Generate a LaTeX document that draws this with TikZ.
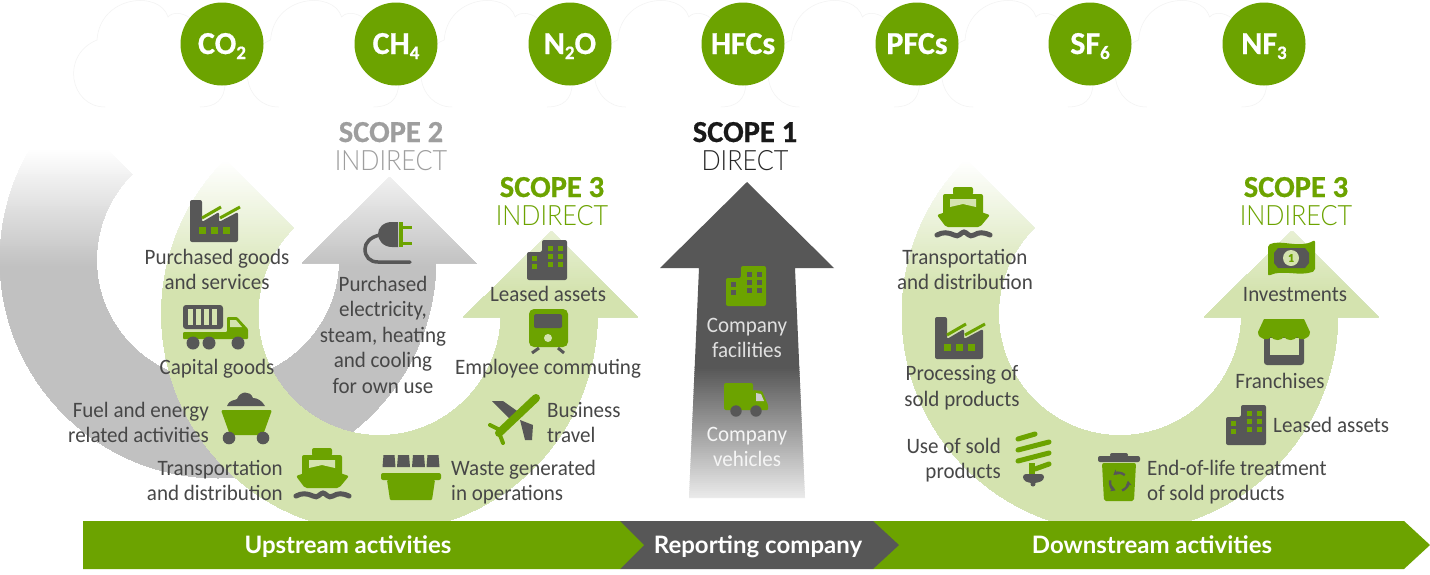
\documentclass[tikz,border=0pt]{standalone}
\usepackage{fontspec}
\setmainfont{Carlito}[FakeStretch=0.955]
\newfontfamily\lightfont{Lato Light}[FakeStretch=0.9]
\newfontfamily\headfont{Lato}
\newfontfamily\heavyfont{Carlito Bold}[FakeBold=0.6]
\newcommand{\gassub}[1]{\raisebox{-5pt}{\fontsize{19}{19}\selectfont #1}}
\usetikzlibrary{arrows.meta}
\definecolor{scopegreen}{HTML}{6CA300}
\definecolor{scopepale}{HTML}{D4E3AF}
\definecolor{scopegray}{HTML}{C1C1C1}
\definecolor{scopedark}{HTML}{575757}
\definecolor{scopetext}{HTML}{474747}
\colorlet{scopefade}{black!8}
\tikzset{
    lbl/.style={font=\fontsize{22}{25.4}\selectfont, text=scopetext, align=center, inner sep=0pt,
        execute at begin node=\strut, execute at end node=\strut},
    gas/.style={circle, fill=scopegreen, minimum size=83pt, inner sep=0pt, text=white, text height=20pt, text depth=0pt,
        font=\fontsize{32}{32}\selectfont\heavyfont},
    scopebold/.style={anchor=base, inner sep=0pt, font=\fontsize{30.5}{31}\selectfont\heavyfont},
    scopelight/.style={anchor=base, inner sep=0pt, font=\fontsize{28}{28}\selectfont\lightfont},
    barlbl/.style={anchor=base, inner sep=0pt, text=white, font=\fontsize{24}{24}\selectfont\headfont\bfseries},
    dk/.style={fill=scopedark},
    gr/.style={fill=scopegreen},
    pics/uarrow/.style n args={3}{code={
        \begin{scope}
            \clip (-154.15,-154.15) arc[start angle=135, end angle=360, radius=218pt]
                -- (218,3) -- (258,3) -- (172,-83) -- (84,3) -- (121.5,3) -- (121.5,0)
                arc[start angle=360, end angle=135, radius=121.5pt] -- cycle;
            \pgfmathsetmacro\gstep{#2+2}
            \foreach \gy in {#2,\gstep,...,#3} {
                \pgfmathsetmacro\gp{100*(\gy-(#2))/((#3)-(#2))}
                \fill[#1!\gp!white] (-240,\gy) rectangle (280,240);
            }
        \end{scope}
    }},
    pics/factory/.style={code={
        \fill[dk, rounded corners=2pt] (-24,-21) -- (-12,-21) -- (-12,1) -- (5,-9) -- (5,1) -- (24,-9) -- (24,21) -- (-24,21) -- cycle;
        \draw[scopegreen, line width=3pt] (-12,-3) -- (7,-14) (6,-3) -- (26,-14);
        \foreach \wx in {-12,0,12} \fill[gr] (\wx-3.5,6) rectangle (\wx+3.5,13);
    }},
    pics/building/.style n args={2}{code={
        \fill[#1, rounded corners=2pt] (-20,-8) -- (-5,-8) -- (-5,-20) -- (20,-20) -- (20,20) -- (-20,20) -- cycle;
        \foreach \wx in {3,13} \foreach \wy in {-12,-4,4} \fill[#2] (\wx-2.5,\wy-2.5) rectangle (\wx+2.5,\wy+2.5);
        \foreach \wy in {-2,6} \fill[#2] (-15.5,\wy-2.5) rectangle (-10.5,\wy+2.5);
    }},
    pics/ship/.style={code={
        \fill[gr, rounded corners=2pt] (-10,-25) rectangle (10,-17);
        \fill[gr, rounded corners=2pt] (-20,-18) rectangle (20,3);
        \fill[scopepale] (-13,-13) -- (13,-13) -- (13,-5) -- (0,-8) -- (-13,-5) -- cycle;
        \fill[gr, rounded corners=2pt] (-26,3) -- (0,-6) -- (27,3) -- (17,15) -- (-17,15) -- cycle;
        \draw[scopedark, line width=5pt, line cap=round] (-26,23) .. controls (-20,20) and (-16,20) .. (-9,23)
            .. controls (-4,26) and (-2,20) .. (1,20) .. controls (4,20) and (6,26) .. (11,23)
            .. controls (16,20) and (20,20) .. (27,23);
    }},
    pics/bigtruck/.style={code={
        \fill[dk, rounded corners=3pt] (-32,-22) rectangle (8,2);
        \foreach \wx in {-25,-17,-9,-1} \fill[scopepale] (\wx-2.5,-18) rectangle (\wx+2.5,-2);
        \fill[gr, rounded corners=1pt] (-32,5) -- (12,5) -- (12,-10) -- (22,-10) -- (33,2) -- (33,12) -- (-32,12) -- cycle;
        \fill[scopepale] (15,-7) -- (21,-7) -- (27,0) -- (15,0) -- cycle;
        \foreach \wx in {-22,-6,23} \fill[dk] (\wx,16) circle (6.5);
    }},
    pics/cart/.style={code={
        \fill[dk] (-19,-9) .. controls (-16,-16) and (-12,-14) .. (-9,-16) .. controls (-6,-24) and (4,-25) .. (7,-17)
            .. controls (12,-17) and (16,-14) .. (19,-9) -- cycle;
        \fill[gr, rounded corners=2pt] (-25,-5) -- (26,-5) -- (17,20) -- (-16,20) -- cycle;
        \foreach \wx in {-17,17} \fill[dk] (\wx,23) circle (6.3);
    }},
    pics/dumpster/.style={code={
        \foreach \lx in {-22,-7.5,7.5,22} \fill[dk] (\lx-5.5,-23) -- (\lx+5.5,-23) -- (\lx+6.5,-11) -- (\lx-6.5,-11) -- cycle;
        \fill[gr, rounded corners=2pt] (-30,-5) rectangle (30,2);
        \fill[gr, rounded corners=1pt] (-24,2) -- (24,2) -- (21,22) -- (-21,22) -- cycle;
    }},
    pics/train/.style={code={
        \fill[gr, rounded corners=5pt] (-19,-21) rectangle (20,17);
        \fill[dk, rounded corners=1.5pt] (-14,-16) rectangle (14,-2);
        \fill[scopepale] (0,8) circle (4);
        \draw[scopedark, line width=3pt] (-9,18) -- (-16,23) (10,18) -- (16,23);
    }},
    pics/plane/.style={code={
        \fill[dk] (-23,-17) -- (-12,-17) -- (5,-5) -- (-3,3) -- cycle;
        \fill[dk] (5,2) -- (18,7) -- (17,22) -- (10,22) -- cycle;
        \draw[scopegreen, line width=4pt, line cap=round] (-25,7) -- (-13,13) (-12,25) -- (-17,12);
        \draw[scopegreen, line width=8pt, line cap=round] (-16,15) -- (21,-20);
    }},
    pics/plug/.style={code={
        \draw[scopedark, line width=3.5pt, line cap=round] (-8,-7) .. controls (-18,-5) and (-23,1) .. (-23,7)
            .. controls (-23,15) and (-18,20) .. (-10,20) -- (22,20);
        \fill[dk] (10,-20) -- (10,5) -- (4,5) .. controls (-5,5) and (-10,-2) .. (-10,-8) .. controls (-10,-14) and (-5,-20) .. (4,-20) -- cycle;
        \fill[gr] (11,-20) rectangle (15,5);
        \draw[scopegreen, line width=3pt] (15,-15) -- (24,-15) (15,1) -- (24,1);
    }},
    pics/smalltruck/.style={code={
        \fill[gr, rounded corners=2pt] (-21,-15) rectangle (8,12);
        \fill[gr, rounded corners=1pt] (8,-8) -- (17,-7) -- (23,7) -- (23,12) -- (8,12) -- cycle;
        \fill[scopedark!30] (11,-5) -- (16,-4) -- (19,3) -- (11,3) -- cycle;
        \foreach \wx in {-9,11} \fill[dk] (\wx,13) circle (5.7);
    }},
    pics/bulb/.style={code={
        \draw[scopegreen, line width=5pt, line cap=round] (-15,-18) -- (2,-23) (-15,-7) -- (16,-15) (-15,4) -- (16,-4) (2,12) -- (16,7);
        \fill[gr] (-4,6) rectangle (2,18);
        \fill[dk, rounded corners=3pt] (-10,17) -- (11,17) -- (11,23) -- (4,26) -- (-4,26) -- (-10,23) -- cycle;
        \fill[dk] (0,27) circle (2.5);
    }},
    pics/bin/.style={code={
        \fill[dk, rounded corners=2pt] (-21,-21) rectangle (21,-15);
        \fill[dk, rounded corners=2pt] (-9,-24) rectangle (9,-20);
        \fill[gr, rounded corners=2pt] (-17,-14) -- (17,-14) -- (15,24) -- (-15,24) -- cycle;
        \foreach \ra in {90,210,330}
            \draw[scopedark, line width=2.4pt, -{Stealth[length=5pt,width=6pt]}, shift={(0,5)}] (\ra-40:9pt) arc[start angle=\ra-40, end angle=\ra+38, radius=9pt];
    }},
    pics/shop/.style={code={
        \fill[dk, rounded corners=3pt] (-20,-5) rectangle (20,23);
        \fill[scopepale] (-14,-4) rectangle (15,13);
        \fill[gr] (-20,-23) -- (20,-23) -- (26,-10) .. controls (26,-2) and (15,-1) .. (13,-5)
            .. controls (10,-1) and (3,-1) .. (0,-5) .. controls (-3,-1) and (-10,-1) .. (-13,-5)
            .. controls (-15,-1) and (-26,-2) .. (-26,-10) -- cycle;
    }},
    pics/money/.style={code={
        \fill[gr, rounded corners=2pt] (-23,-13) .. controls (-10,-19) and (8,-9) .. (24,-18) -- (24,13)
            .. controls (8,19) and (-8,11) .. (-23,18) -- cycle;
        \fill[dk] (-13,-10) -- (14,-10) -- (18,-5) -- (18,5) -- (14,10) -- (-13,10) -- (-17,5) -- (-17,-5) -- cycle;
        \fill[scopepale] (0,0) circle (8);
    }},
}
\begin{document}
\begin{tikzpicture}[x=1pt, y=-1pt]
    \useasboundingbox (0,0) rectangle (1430,574);
    \fill[white] (0,0) rectangle (1430,574);

    % Clouds
    \foreach \cloudx in {0,173.6,347.2,520.8,694.4,868,1041.6}
        \draw[black!5, line width=0.5pt, shift={(\cloudx,0)}] (105,107) .. controls (70,107) and (60,55) .. (97,40)
            .. controls (100,-5) and (160,-10) .. (168,17) .. controls (172,12) and (182,12) .. (190,18)
            (225,83) .. controls (225,100) and (215,107) .. (200,107);

    % Gases
    \node[gas] at (222,44) (co2) {CO\gassub{2}};
    \node[gas] at (396,44) (ch4) {CH\gassub{4}};
    \node[gas] at (570,44) (n2o) {N\gassub{2}O};
    \node[gas] at (743,44) (hfcs) {HFCs};
    \node[gas] at (917,44) (pfcs) {PFCs};
    \node[gas] at (1090,44) (sf6) {SF\gassub{6}};
    \node[gas] at (1264,44) (nf3) {NF\gassub{3}};

    % Arrows
    \pic at (218,260) {uarrow={scopegray}{-112}{6}};
    \pic at (379.5,314) {uarrow={scopepale}{-154}{-24}};
    \pic at (1120,314) {uarrow={scopepale}{-154}{-24}};
    \begin{scope}
        \clip (747,182) -- (834,268) -- (795,268) -- (805,498) -- (689,498) -- (699,268) -- (660,268) -- cycle;
        \fill[scopedark] (650,170) rectangle (840,368);
        \foreach \gy in {367,369,...,497} {
            \pgfmathsetmacro\gp{100*(497-\gy)/130}
            \fill[scopedark!\gp!scopefade] (650,\gy) rectangle (840,\gy+3);
        }
    \end{scope}

    % Bar
    \fill[scopegreen] (873,521) -- (1404,521) -- (1430,545) -- (1404,569) -- (873,569) -- cycle;
    \fill[scopedark] (620,521) -- (873,521) -- (899,545) -- (873,569) -- (620,569) -- cycle;
    \fill[scopegreen] (83,521) -- (620,521) -- (644,545) -- (620,569) -- (83,569) -- cycle;
    \node[barlbl] at (348,553) (upstream) {Upstream activities};
    \node[barlbl] at (758,553) (reporting) {Reporting company};
    \node[barlbl] at (1152,553) (downstream) {Downstream activities};

    % Scope headings
    \node[scopebold, text=black!38] at (391,142) (scope2) {SCOPE 2};
    \node[scopelight, text=black!38] at (391,170) (scope2sub) {INDIRECT};
    \node[scopebold, text=black!90] at (745,142) (scope1) {SCOPE 1};
    \node[scopelight, text=black!85] at (745,170) (scope1sub) {DIRECT};
    \node[scopebold, text=scopegreen] at (552,197) (scope3a) {SCOPE 3};
    \node[scopelight, text=scopegreen] at (552,225) (scope3asub) {INDIRECT};
    \node[scopebold, text=scopegreen] at (1296,197) (scope3b) {SCOPE 3};
    \node[scopelight, text=scopegreen] at (1296,225) (scope3bsub) {INDIRECT};

    % Icons
    \pic at (214,221) {factory};
    \pic at (215,327) {bigtruck};
    \pic at (246,415) {cart};
    \pic at (322,473) {ship};
    \pic at (411,478) {dumpster};
    \pic at (515,418) {plane};
    \pic at (548,330) {train};
    \pic at (547,260) {building={scopedark}{scopegreen}};
    \pic at (388,242) {plug};
    \pic at (746,286) {building={scopegreen}{scopedark}};
    \pic at (745,398) {smalltruck};
    \pic at (963,212) {ship};
    \pic at (959,338) {factory};
    \pic at (1033,457) {bulb};
    \pic at (1119,477) {bin};
    \pic at (1246,425) {building={scopedark}{scopegreen}};
    \pic at (1284,342) {shop};
    \pic at (1291,258) {money};
    \node[font=\fontsize{12}{12}\selectfont\heavyfont, text=scopegreen, inner sep=0pt] at (1291,258) (dollar) {1};

    % Labels
    \node[lbl] at (217,273.4) (goods) {Purchased goods\\and services};
    \node[lbl] at (217,369.9) (capital) {Capital goods};
    \node[lbl, align=right, anchor=east] at (209,426.4) (fuel) {Fuel and energy\\related activities};
    \node[lbl, align=right, anchor=east] at (283,484) (transpa) {Transportation\\and distribution};
    \node[lbl, align=left, anchor=west] at (451,484) (waste) {Waste generated\\in operations};
    \node[lbl, align=left, anchor=west] at (547,426.4) (travel) {Business\\travel};
    \node[lbl] at (548,369.9) (commute) {Employee commuting};
    \node[lbl] at (548,296.4) (leaseda) {Leased assets};
    \node[lbl] at (383,338.4) (electric) {Purchased\\electricity,\\steam, heating\\and cooling\\for own use};
    \node[lbl, text=black!12] at (747,341.4) (facilities) {Company\\facilities};
    \node[lbl, text=black!4] at (747,450.4) (vehicles) {Company\\vehicles};
    \node[lbl] at (965,273.4) (transpb) {Transportation\\and distribution};
    \node[lbl] at (962,389.9) (process) {Processing of\\sold products};
    \node[lbl, align=right, anchor=east] at (1001,462.4) (use) {Use of sold\\products};
    \node[lbl, align=left, anchor=west] at (1147,484) (endlife) {End-of-life treatment\\of sold products};
    \node[lbl, anchor=west] at (1273,427.4) (leasedb) {Leased assets};
    \node[lbl] at (1280,383.4) (franchise) {Franchises};
    \node[lbl] at (1295,296.4) (invest) {Investments};
\end{tikzpicture}
\end{document}
